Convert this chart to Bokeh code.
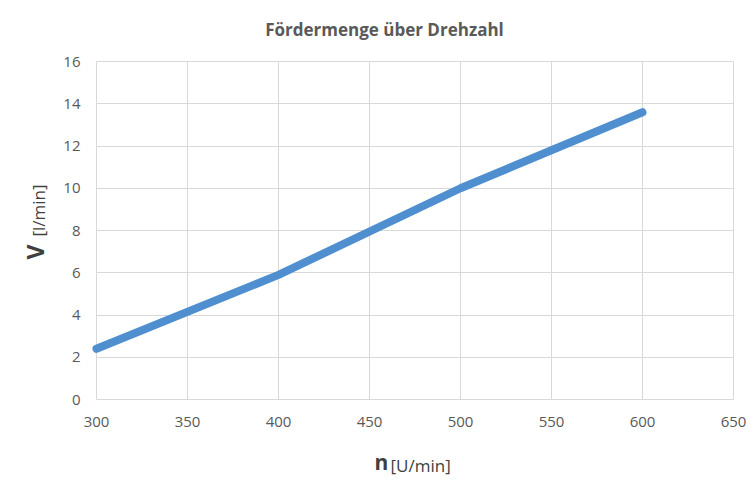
import math
from bokeh.plotting import figure
from bokeh.models import Range1d, SingleIntervalTicker, Label, LinearAxis
from bokeh.embed import file_html
from bokeh.resources import INLINE

# ---- data ----
drehzahl = [300, 400, 500, 600]          # n [U/min]
foerdermenge = [2.4, 5.9, 10.0, 13.6]    # V [l/min]

x_axis_limits = (300, 650)
y_axis_limits = (0, 16)
x_tick_step = 50
y_tick_step = 2

title_text = "Fördermenge über Drehzahl"
x_name, x_unit = "n", "[U/min]"
y_name, y_unit = "V", "[l/min]"

# ---- styling / layout ----
W, H = 746, 478
FRAME_L, FRAME_R, FRAME_T, FRAME_B = 96, 733, 61, 399   # pixel box of the plot area
FONT = "Open Sans"
GRID = "#D9D9D9"
TXT = "#595959"
LBL = "#404040"

# the canvas is entirely the frame; ranges chosen so that the axis limits fall on the plot box
sx = (FRAME_R - FRAME_L) / (x_axis_limits[1] - x_axis_limits[0])
sy = (FRAME_B - FRAME_T) / (y_axis_limits[1] - y_axis_limits[0])
x0 = x_axis_limits[0] - FRAME_L / sx
x1 = x_axis_limits[0] + (W - FRAME_L) / sx
y1 = y_axis_limits[1] + FRAME_T / sy
y0 = y_axis_limits[0] - (H - FRAME_B) / sy

def px_x(px):
    return x0 + px / sx

def px_y(py):
    return y1 - py / sy

p = figure(width=W, height=H, output_backend="svg", toolbar_location=None,
           x_range=Range1d(x0, x1), y_range=Range1d(y0, y1),
           x_axis_type=None, y_axis_type=None, min_border=0,
           background_fill_color="white", border_fill_color="white")
p.outline_line_color = None
p.xgrid.visible = False
p.ygrid.visible = False

xaxis = LinearAxis(fixed_location=y_axis_limits[0], bounds=x_axis_limits,
                   ticker=SingleIntervalTicker(interval=x_tick_step))
yaxis = LinearAxis(fixed_location=x_axis_limits[0], bounds=y_axis_limits,
                   ticker=SingleIntervalTicker(interval=y_tick_step))
xaxis.major_tick_in = FRAME_B - FRAME_T
yaxis.major_tick_in = FRAME_R - FRAME_L
for ax in (xaxis, yaxis):
    ax.level = "underlay"
    ax.axis_line_color = None
    ax.major_tick_out = 0
    ax.major_tick_line_color = GRID
    ax.major_tick_line_width = 1
    ax.minor_tick_line_color = None
    ax.major_label_text_font = FONT
    ax.major_label_text_font_size = "15px"
    ax.major_label_text_color = TXT
xaxis.major_label_standoff = 13
yaxis.major_label_standoff = 12
p.add_layout(xaxis, "below")
p.add_layout(yaxis, "left")

p.line(drehzahl, foerdermenge, line_width=8, line_color="#4F8FCF", line_cap="round",
       line_join="round")

p.add_layout(Label(x=px_x(384), y=px_y(29), text=title_text, text_align="center",
                   text_baseline="alphabetic", text_font=FONT, text_font_size="17px",
                   text_font_style="bold", text_color=TXT))

p.add_layout(Label(x=px_x(34), y=px_y(259), text=y_name, angle=math.pi / 2,
                   text_align="left", text_baseline="alphabetic", text_font=FONT,
                   text_font_size="23px", text_font_style="bold", text_color=LBL))
p.add_layout(Label(x=px_x(38), y=px_y(236), text=y_unit, angle=math.pi / 2,
                   text_align="left", text_baseline="alphabetic", text_font=FONT,
                   text_font_size="17px", text_color=LBL))

p.add_layout(Label(x=px_x(374), y=px_y(461), text=x_name, text_align="left",
                   text_baseline="alphabetic", text_font=FONT, text_font_size="21px",
                   text_font_style="bold", text_color=LBL))
p.add_layout(Label(x=px_x(390), y=px_y(465), text=x_unit, text_align="left",
                   text_baseline="alphabetic", text_font=FONT, text_font_size="17px",
                   text_color=LBL))

open("out.html", "w").write(file_html(p, INLINE))
